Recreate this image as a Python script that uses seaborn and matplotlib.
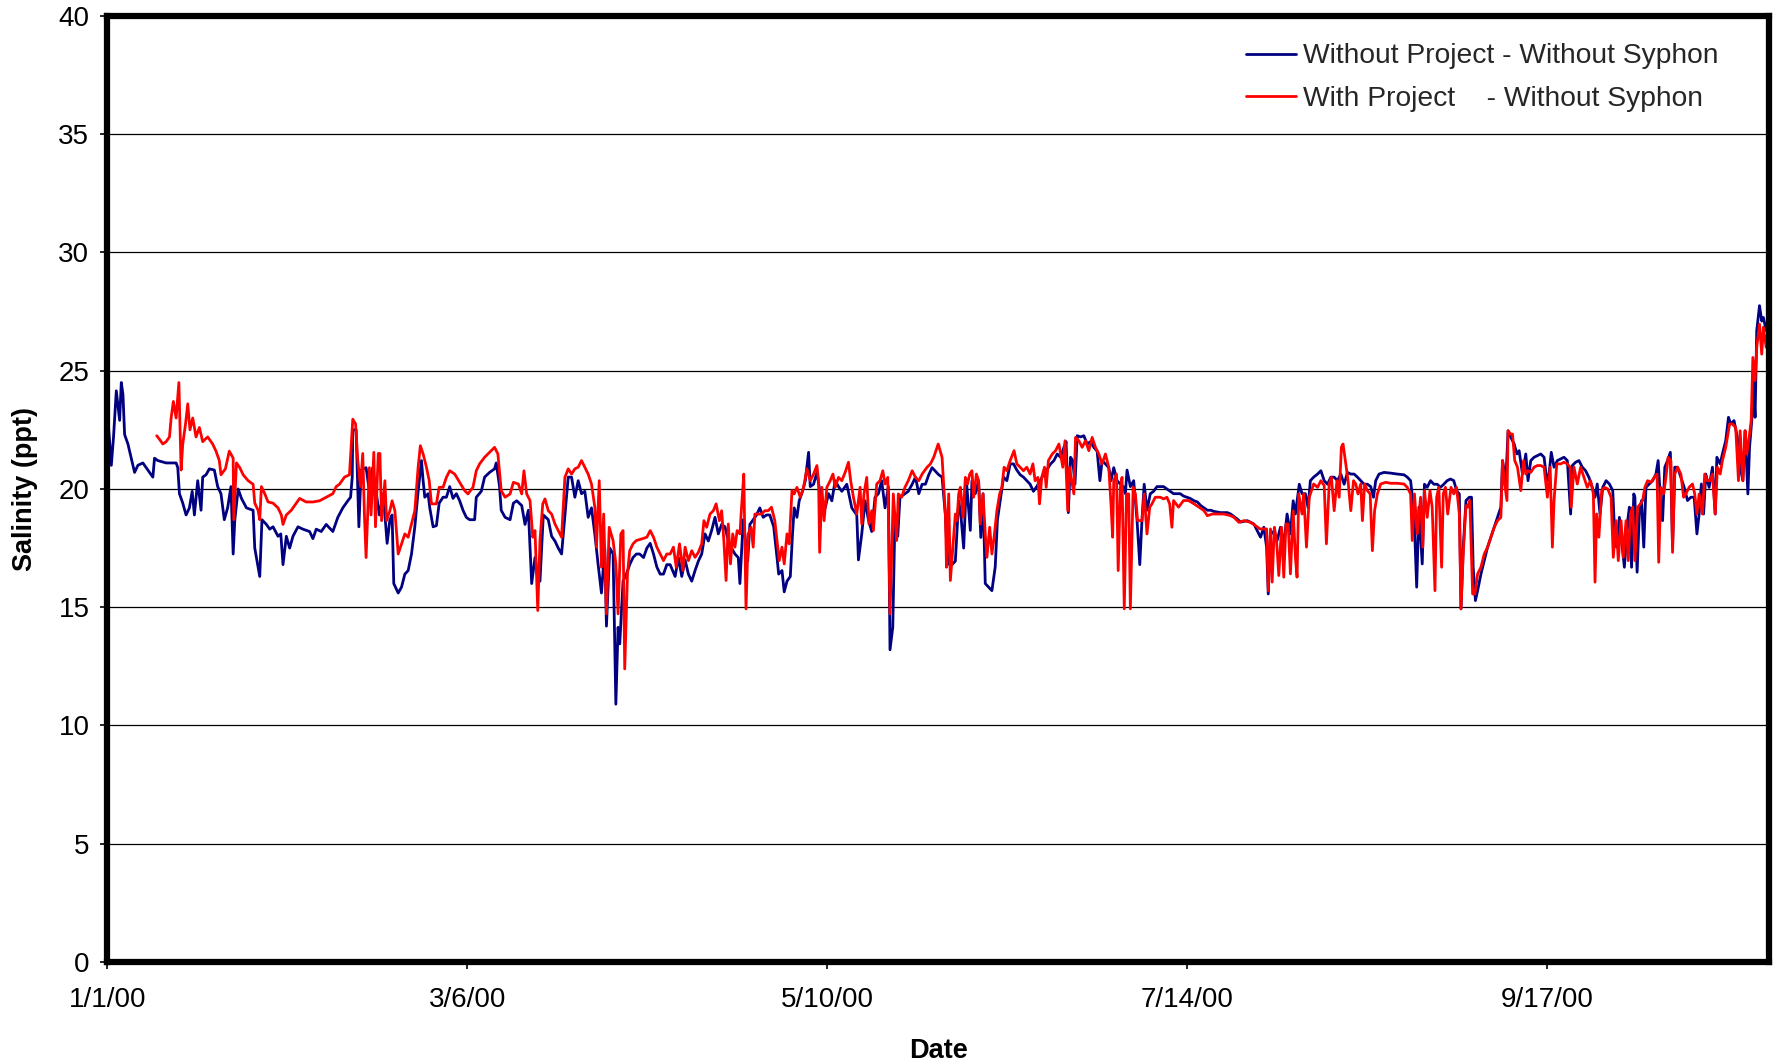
import matplotlib
matplotlib.use("Agg")
import matplotlib.pyplot as plt
from matplotlib.lines import Line2D
import pandas as pd
import seaborn as sns

# ---------------- data (days after 1/1/2000, salinity ppt) ----------------
start_date = "2000-01-01"

without_days = [
    0.0, 0.2, 0.7, 1.1, 1.6, 2.2, 2.5, 2.8, 3.1, 3.7, 4.3, 4.9, 5.5, 6.4, 7.3, 8.2, 8.5, 9.1,
    10.6, 12.4, 12.7, 13.0, 13.6, 14.2, 14.8, 15.3, 15.7, 16.3, 16.9, 17.2, 17.8, 18.4, 19.3,
    19.9, 20.5, 21.1, 21.7, 22.3, 22.7, 23.0, 23.6, 24.2, 25.1, 26.3, 26.6, 27.2, 27.5, 27.9,
    28.7, 29.3, 29.9, 30.8, 31.3, 31.7, 32.3, 32.9, 33.5, 34.4, 35.3, 36.5, 37.1, 37.7, 38.6,
    39.5, 40.7, 41.6, 42.5, 43.4, 43.9, 44.2, 44.3, 44.9, 45.4, 45.8, 46.7, 47.3, 47.9, 48.5,
    49.1, 49.8, 50.5,
    51.0, 51.4, 51.7, 52.5, 53.1, 53.7, 54.3, 54.9, 55.5, 56.1, 56.7, 57.0, 57.3, 57.9, 58.2,
    58.8, 59.4, 59.9, 60.6, 61.2, 61.8, 62.4, 63.0, 63.6, 64.2, 64.8, 65.4, 66.3, 66.6, 67.5,
    68.1, 69.0, 69.9, 70.2, 70.8, 71.1, 71.8, 72.7, 73.3, 73.9, 74.8, 75.4, 76.0, 76.6, 77.2,
    77.8, 78.1, 78.7, 79.6, 80.2, 80.8, 81.4, 82.0, 82.6, 83.2, 83.8, 84.4, 85.0, 85.6, 86.2,
    86.8, 87.4, 88.0, 88.6, 89.2, 89.8, 90.1, 90.7, 91.3, 91.8, 92.2, 92.5, 93.1, 93.7, 94.3,
    94.9, 95.5, 96.1, 96.8, 97.4, 98.0, 98.6, 99.2, 99.8, 100.4, 101.0,
    101.6, 102.5, 103.1, 103.7, 104.3, 104.9, 105.5, 106.1, 106.7, 107.3, 107.9, 108.5, 109.1,
    109.7, 110.3, 110.9, 111.5, 112.1, 112.7, 113.3, 113.9, 114.2, 114.8, 115.6, 116.0, 116.6,
    117.2, 117.8, 118.4, 119.0, 119.6, 120.3, 120.9, 121.2, 121.8, 122.2, 122.7, 123.3, 123.7,
    124.0, 124.5, 124.9, 125.5, 126.0, 126.6, 126.9, 127.5, 128.1, 128.7, 129.6, 130.2, 130.8,
    131.4, 132.0, 132.6, 133.5, 134.4, 135.3, 135.6, 136.2, 136.8, 137.4, 138.0, 138.6, 139.2,
    139.8, 140.4, 141.0, 141.3, 141.8, 142.2, 142.7, 143.1, 144.0, 144.6, 145.3, 145.9, 146.5,
    147.1, 147.7, 148.3, 148.9, 149.5, 150.1, 150.7, 151.3, 151.7,
    151.9, 152.5, 153.1, 153.7, 154.1, 154.6, 155.1, 155.8, 156.1, 156.7, 157.3, 157.7, 158.1,
    158.5, 159.1, 159.7, 160.3, 160.7, 161.2, 161.8, 162.4, 163.0, 163.6, 164.2, 164.8, 165.4,
    166.0, 166.6, 167.2, 167.8, 168.4, 169.0, 169.6, 170.3, 170.9, 171.5, 172.1, 172.7, 173.1,
    173.5, 173.9, 174.3, 174.7, 175.1, 175.7, 176.3, 176.9, 177.5, 178.1, 178.7, 179.2, 179.6,
    180.2, 180.8, 181.2, 181.7, 182.3, 182.9, 183.4, 183.8, 184.1, 184.7, 185.3, 185.9, 186.4,
    186.8, 187.2, 187.7, 188.3, 188.9, 189.5, 190.1, 190.7, 191.3, 191.9, 192.5, 193.1, 193.7,
    194.3, 194.9, 195.5, 196.2, 196.8, 197.4, 198.0, 198.6, 199.2, 199.8, 201.0, 202.2,
    202.8, 204.0, 204.6, 205.8, 207.0, 207.9, 208.2, 208.8, 209.3, 209.6, 210.0, 210.6, 211.2,
    211.8, 212.4, 213.0, 213.6, 214.1, 214.5, 215.2, 215.7, 216.3, 216.8, 217.2, 217.8, 218.5,
    219.1, 219.7, 220.3, 220.9, 221.5, 222.1, 222.7, 223.3, 223.9, 224.5, 225.1, 225.7, 226.3,
    226.9, 227.5, 228.1, 228.6, 229.0, 229.6, 230.5, 231.7, 232.9, 234.1, 234.7, 235.3, 235.9,
    236.4, 236.8, 237.4, 237.8, 238.3, 238.9, 239.5, 240.1, 240.7, 241.3, 241.9, 242.5, 243.1,
    243.6, 244.1, 244.4, 244.8, 245.3, 245.9, 246.3, 246.6, 247.0, 247.4, 248.0, 248.6, 249.2,
    249.8, 250.4, 251.0,
    251.6, 251.9, 252.5, 252.9, 253.4, 254.0, 254.5, 254.9, 255.5, 256.1, 256.5, 257.0, 257.6,
    258.2, 258.8, 259.4, 259.9, 260.3, 260.7, 261.2, 261.8, 262.4, 263.0, 263.6, 264.2, 264.5,
    265.1, 265.7, 266.3, 266.9, 267.5, 268.1, 268.6, 269.0, 269.5, 270.0, 270.6, 271.2, 271.8,
    272.2, 272.5, 273.0, 273.4, 273.9, 274.5, 274.8, 275.2, 275.6, 275.8, 276.2, 276.6, 277.0,
    277.4, 277.8, 278.4, 279.0, 279.6, 280.0, 280.5, 280.8, 281.2, 281.7, 282.2, 282.6, 283.0,
    283.5, 284.1, 284.7, 285.3, 285.9, 286.5, 287.0, 287.4, 287.8, 288.2, 288.6, 289.2, 289.8,
    290.3, 290.6, 291.2, 291.6, 292.2, 292.7, 293.1, 293.7, 294.3, 294.8, 295.3, 295.7, 296.2,
    296.5, 296.9, 297.2, 297.5, 297.8, 298.3, 298.7, 299.0, 299.5, 299.9, 300.4,
]
without_vals = [
    21.3, 22.6, 21.0, 22.2, 24.15, 22.9, 24.5, 24.0, 22.3, 21.9, 21.3, 20.7, 21.0, 21.1, 20.8, 20.5, 21.3, 21.2,
    21.1, 21.1, 20.9, 19.8, 19.4, 18.9, 19.2, 19.9, 18.9, 20.35, 19.1, 20.5, 20.6, 20.85, 20.8,
    20.1, 19.8, 18.7, 19.2, 20.1, 17.25, 18.7, 20.0, 19.6, 19.2, 19.1, 17.5, 16.7, 16.3, 18.7,
    18.5, 18.3, 18.4, 18.0, 18.1, 16.8, 18.0, 17.5, 18.0, 18.4, 18.3, 18.2, 17.9, 18.3, 18.2,
    18.5, 18.2, 18.8, 19.2, 19.5, 19.65, 20.5, 22.5, 22.5, 18.4, 20.8, 20.9, 19.9, 20.9, 19.9,
    18.9, 19.8, 17.7,
    18.7, 18.9, 16.0, 15.6, 15.85, 16.4, 16.55, 17.25, 18.4, 19.9, 21.2, 20.35, 19.65, 19.8, 19.2,
    18.4, 18.45, 19.4, 19.65, 19.65, 20.1, 19.6, 19.8, 19.5, 19.1, 18.8, 18.7, 18.7, 19.65, 19.9,
    20.5, 20.7, 20.85, 21.1, 20.1, 19.1, 18.8, 18.7, 19.4, 19.5, 19.3, 18.5, 19.1, 16.0, 17.1,
    16.1, 16.1, 18.9, 18.7, 18.0, 17.8, 17.5, 17.25, 18.9, 20.5, 20.5, 19.65, 20.35, 19.8, 19.9,
    18.8, 19.2, 18.1, 16.8, 15.6, 17.5, 14.2, 17.5, 17.25, 10.9, 14.15, 13.45, 16.1, 16.4, 16.8,
    17.1, 17.25, 17.25, 17.1, 17.5, 17.7, 17.25, 16.7, 16.4, 16.4, 16.8,
    16.8, 16.3, 17.1, 16.3, 17.0, 16.4, 16.1, 16.55, 16.95, 17.25, 18.1, 17.8, 18.25,
    18.8, 18.1, 18.5, 18.4, 17.8, 17.5, 17.25, 17.1, 16.0, 18.7, 16.95, 18.5, 18.7,
    18.9, 19.2, 18.8, 18.9, 18.9, 18.4, 17.1, 16.4, 16.55, 15.65, 16.1, 16.3, 18.1,
    19.2, 18.8, 19.5, 19.9, 20.35, 21.55, 20.1, 20.2, 20.7, 19.8, 19.2, 19.8, 19.5,
    20.35, 20.1, 19.9, 20.2, 19.2, 18.9, 17.0, 18.1, 19.5, 18.7, 18.2, 19.65, 19.8,
    20.35, 19.2, 20.1, 13.2, 14.15, 18.9, 18.0, 19.65, 19.8, 19.9, 20.2, 20.5, 19.8,
    20.2, 20.2, 20.6, 20.9, 20.75, 20.6, 20.5, 18.9, 16.8,
    17.7, 16.8, 16.95, 19.5, 18.9, 17.5, 20.35, 18.25, 20.35, 19.8, 20.35, 17.95, 19.8,
    16.0, 15.85, 15.7, 16.7, 18.7, 19.5, 20.5, 20.35, 21.06, 21.06, 20.8, 20.6, 20.5,
    20.35, 20.2, 19.9, 20.1, 20.35, 20.6, 20.8, 21.06, 21.2, 21.48, 21.34, 21.76, 22.0,
    19.0, 21.34, 21.2, 20.2, 22.25, 22.2, 22.25, 21.9, 22.0, 21.76, 21.6, 20.35, 21.2,
    21.06, 20.9, 20.35, 20.9, 20.35, 20.2, 20.1, 19.8, 20.8, 20.1, 20.35, 18.7, 16.8,
    18.7, 20.2, 19.1, 19.8, 19.9, 20.1, 20.1, 20.1, 20.0, 19.9, 19.8, 19.8, 19.8,
    19.7, 19.65, 19.6, 19.5, 19.45, 19.3, 19.2, 19.1, 19.1, 19.05, 19.0, 19.0,
    18.94, 18.73, 18.6, 18.66, 18.52, 18.1, 17.96, 18.38, 17.54, 15.56, 18.24, 18.1, 17.82,
    18.38, 17.68, 18.94, 18.1, 19.5, 18.94, 20.2, 19.8, 19.8, 19.2, 20.35, 20.5, 20.63,
    20.77, 20.35, 20.2, 20.5, 20.5, 20.35, 20.63, 20.2, 20.7, 20.63, 20.63, 20.5, 20.35,
    20.2, 20.2, 20.1, 19.65, 20.35, 20.63, 20.7, 20.67, 20.63, 20.6, 20.5, 20.35, 19.08,
    15.85, 19.23, 16.83, 20.2, 20.07, 20.35, 20.2, 20.2, 20.07, 20.2, 20.35, 20.42, 20.35,
    19.93, 19.79, 14.93, 17.5, 19.51, 19.65, 19.65, 16.7, 15.28, 15.7, 16.4, 16.97, 17.54,
    17.96, 18.38, 18.8,
    19.23, 21.2, 20.35, 22.46, 22.18, 21.9, 21.48, 21.62, 20.63, 21.48, 20.35, 21.2, 21.34,
    21.41, 21.48, 21.34, 20.35, 20.63, 21.55, 20.92, 21.2, 21.27, 21.34, 21.2, 18.94, 20.99,
    21.13, 21.2, 20.92, 20.77, 20.49, 20.07, 19.65, 20.21, 18.94, 20.07, 20.35, 20.21, 19.93,
    17.82, 17.54, 18.8, 17.82, 16.69, 18.66, 19.23, 16.69, 19.79, 19.65, 16.48, 18.94, 19.51,
    17.54, 20.07, 20.21, 20.35, 20.63, 21.2, 19.23, 18.66, 20.92, 21.2, 21.55, 17.54, 20.92,
    20.92, 20.49, 20.07, 19.51, 19.65, 19.65, 18.1, 18.94, 20.21, 18.94, 20.63, 20.07, 20.92,
    18.94, 21.34, 21.06, 21.48, 22.04, 23.03, 22.75, 22.89, 22.18, 20.92, 20.35, 22.46, 19.79,
    21.76, 22.89, 24.58, 23.03, 26.7, 27.75, 27.1, 27.25, 26.7, 26.97, 25.99,
]

with_days = [
    8.9, 9.4, 10.0, 10.6, 11.2, 11.5, 11.9, 12.4, 12.9, 13.3, 13.6, 14.1, 14.5, 14.9, 15.4,
    16.0, 16.6, 17.2, 18.1, 19.0, 19.6, 20.2, 20.5, 21.3, 22.0, 22.7, 22.8, 23.3, 23.9, 24.5,
    25.4, 26.3, 26.6, 27.2, 27.5, 27.8, 28.4, 29.0, 29.9, 30.8, 31.4, 31.7, 32.3, 33.2, 34.1,
    34.7, 35.9, 37.1, 38.3, 39.5, 40.7, 41.3, 41.9, 42.8, 43.7, 44.3, 44.8, 45.2, 45.7, 46.1,
    46.4, 46.7, 47.3, 47.6, 48.1, 48.4, 48.9, 49.2,
    49.5, 50.1, 50.4, 51.0, 51.4, 51.9, 52.5, 53.1, 53.7, 54.3, 54.9, 55.5, 56.1, 56.5, 57.0,
    57.6, 58.1, 58.5, 59.4, 59.9, 60.6, 61.2, 61.8, 62.7, 63.6, 64.5, 65.1, 66.0, 66.6, 67.2,
    68.1, 69.0, 69.9, 70.5, 71.1, 71.8, 72.7, 73.3, 74.2, 74.8, 75.2, 75.7, 76.3, 76.8, 77.2,
    77.7, 78.1, 78.6, 79.0, 79.6, 80.2, 80.8, 81.4, 82.0, 82.6, 83.2, 83.8, 84.4, 85.0, 85.6,
    86.2, 86.8, 87.4, 88.0, 88.3, 88.8, 89.2, 89.6, 90.1, 90.6, 91.3, 91.8, 92.2, 92.7, 93.1,
    93.4, 93.9, 94.3, 94.9, 95.5, 96.5, 97.4, 98.0, 98.6, 99.2, 99.8, 100.4, 101.0,
    101.6, 102.2, 102.7, 103.3, 103.9, 104.3, 104.9, 105.5, 106.1, 106.7, 107.3, 107.7, 108.2,
    108.8, 109.4, 109.9, 110.5, 110.9, 111.3, 111.7, 112.1, 112.5, 112.9, 113.3, 113.7, 114.2,
    114.5, 114.9, 115.3, 115.7, 116.2, 116.6, 116.9, 117.5, 118.1, 118.7, 119.3, 119.9, 120.5,
    120.9, 121.3, 121.8, 122.2, 122.7, 123.1, 123.6, 124.0, 124.5, 125.1, 125.7, 126.3, 126.9,
    127.5, 128.1, 128.4, 128.6, 129.0, 129.4, 129.9, 130.5, 131.0, 131.4, 132.0, 132.6, 133.2,
    133.8, 134.2, 134.7, 135.3, 135.9, 136.2, 136.6, 137.1, 137.5, 138.0, 138.3, 138.9, 139.5,
    140.0, 140.4, 140.9, 141.3, 141.9, 142.5, 142.8, 143.4, 144.0, 144.6, 145.3, 145.9, 146.5,
    147.1, 148.0, 148.6, 149.2, 150.0, 150.7, 151.3, 151.5, 151.9, 152.2,
    152.7, 153.1, 153.4, 153.7, 154.0, 154.5, 154.9, 155.3, 155.7, 156.1, 156.4, 156.9, 157.3,
    157.6, 158.1, 158.5, 158.8, 159.3, 159.7, 160.1, 160.6, 161.1, 161.5, 161.9, 162.4, 163.0,
    163.7, 164.2, 164.8, 165.4, 166.0, 166.6, 167.1, 167.5, 168.0, 168.3, 168.7, 169.2, 169.5,
    169.9, 170.6, 171.2, 171.8, 172.2, 172.5, 172.9, 173.4, 173.7, 174.2, 174.5, 174.8, 175.4,
    176.0, 176.6, 177.2, 177.8, 178.4, 179.0, 179.6, 180.2, 180.8, 181.2, 181.5, 181.7, 182.2,
    182.5, 182.9, 183.2, 183.6, 184.0, 184.4, 184.7, 185.2, 185.6, 186.0, 186.8, 187.2, 187.7,
    188.2, 188.6, 189.2, 190.1, 190.7, 191.3, 191.8, 192.2, 192.5, 193.4, 194.3, 195.2, 196.2,
    197.1, 198.0, 198.6, 199.5, 200.4, 201.6, 202.8,
    203.4, 204.3, 205.2, 206.4, 207.3, 208.1, 208.8, 209.3, 209.6, 210.0, 210.3, 210.7, 211.1,
    211.5, 212.0, 212.4, 212.8, 213.2, 213.6, 214.1, 214.5, 214.8, 215.1, 215.7, 216.0, 216.5,
    217.0, 217.4, 217.8, 218.5, 219.1, 219.7, 220.1, 220.6, 221.0, 221.5, 222.0, 222.4, 222.8,
    223.1, 223.6, 224.0, 224.5, 225.0, 225.4, 225.8, 226.3, 226.6, 227.0, 227.5, 228.0, 228.4,
    228.8, 229.3, 229.9, 230.8, 231.7, 232.9, 234.1, 234.7, 235.3, 235.6, 236.0, 236.5, 237.1,
    237.5, 237.8, 238.3, 238.8, 239.2, 239.7, 240.0, 240.4, 240.9, 241.2, 241.6, 242.0, 242.6,
    243.1, 243.6, 244.1, 244.4, 244.8, 245.3, 245.6, 246.0, 246.5, 246.9, 247.4, 248.0, 248.6,
    249.2, 249.8, 250.4, 251.0, 251.6, 251.9, 252.2, 252.7, 252.9, 253.4,
    253.7, 254.1, 254.6, 255.2, 255.7, 256.1, 256.5, 257.0, 257.6, 258.2, 258.8, 259.4, 260.0,
    260.5, 260.9, 261.2, 261.7, 262.4, 263.0, 263.6, 264.1, 264.3, 264.8, 265.4, 266.0, 266.6,
    267.2, 267.8, 268.3, 268.6, 268.9, 269.3, 269.8, 270.3, 270.9, 271.5, 271.9, 272.4, 272.8,
    273.3, 273.7, 274.2, 274.6, 275.0, 275.4, 275.8, 276.3, 276.8, 277.2, 277.6, 278.1, 278.7,
    279.3, 279.8, 280.1, 280.5, 281.0, 281.4, 281.8, 282.3, 282.6, 283.0, 283.5, 284.1, 284.6,
    285.0, 285.6, 286.2, 286.6, 287.0, 287.4, 288.0, 288.4, 288.9, 289.4, 289.8, 290.3, 290.7,
    291.2, 291.6, 292.2, 292.9, 293.4, 294.0, 294.5, 294.8, 295.3, 295.7, 296.0, 296.5, 296.8,
    297.1, 297.5, 297.8, 298.3, 298.7, 299.0, 299.5, 299.9, 300.4,
]
with_vals = [
    22.25, 22.1, 21.9, 22.0, 22.2, 23.0, 23.7, 23.0, 24.5, 20.8, 21.9, 22.75, 23.6, 22.5, 23.0,
    22.2, 22.6, 22.0, 22.2, 21.9, 21.6, 21.2, 20.6, 20.85, 21.6, 21.3, 18.7, 21.1, 20.9, 20.6,
    20.35, 20.2, 19.4, 19.1, 18.7, 20.1, 19.8, 19.45, 19.4, 19.2, 18.9, 18.5, 18.9, 19.1, 19.4,
    19.6, 19.45, 19.45, 19.5, 19.65, 19.8, 20.1, 20.2, 20.5, 20.6, 22.95, 22.75, 21.2, 20.1, 21.5,
    18.9, 17.1, 20.9, 18.9, 21.55, 18.4, 21.5, 21.5,
    18.66, 20.35, 18.66, 19.08, 19.5, 19.08, 17.25, 17.68, 18.1, 17.96, 18.52, 19.08, 20.92, 21.83, 21.48,
    20.92, 20.35, 19.37, 19.37, 20.07, 20.07, 20.49, 20.77, 20.63, 20.28, 19.93, 19.79, 20.07, 20.77, 21.06,
    21.34, 21.55, 21.76, 21.48, 19.93, 19.65, 19.79, 20.28, 20.21, 19.79, 20.77, 19.79, 19.51, 17.96, 18.24,
    14.86, 17.82, 19.37, 19.58, 19.08, 18.94, 18.52, 18.24, 17.96, 20.49, 20.85, 20.63, 20.85, 20.92, 21.2,
    20.92, 20.63, 20.21, 19.23, 17.54, 20.35, 16.69, 18.94, 14.72, 18.38, 17.82, 16.83, 14.72, 18.1, 18.24,
    12.39, 16.41, 17.39, 17.68, 17.82, 17.89, 17.96, 18.24, 17.96, 17.54, 17.25, 16.97, 17.25,
    17.25, 17.54, 16.69, 17.68, 16.55, 17.54, 16.97, 17.39, 17.11, 17.32, 17.68, 18.66, 18.38,
    18.94, 19.08, 19.37, 18.66, 19.08, 17.82, 16.13, 18.52, 16.83, 18.1, 17.54, 18.24, 18.1,
    19.23, 20.63, 14.93, 18.1, 18.38, 17.54, 18.94, 18.94, 18.94, 19.08, 19.08, 19.23, 18.66,
    17.82, 16.97, 17.54, 16.83, 18.1, 17.68, 19.93, 19.79, 20.07, 19.65, 20.07, 20.85, 20.35,
    20.63, 20.99, 20.35, 17.32, 20.07, 18.66, 20.07, 20.35, 20.63, 20.07, 20.49, 20.35, 20.7,
    21.13, 20.35, 19.65, 18.94, 20.07, 18.52, 19.79, 20.49, 18.52, 19.08, 18.24, 20.21, 20.35,
    20.77, 20.21, 20.49, 14.72, 19.79, 17.82, 19.79, 19.65, 20.07, 20.35, 20.77, 20.49, 20.35,
    20.63, 20.92, 21.06, 21.34, 21.9, 21.34, 18.94, 16.69, 19.79, 16.13,
    17.68, 18.94, 18.66, 19.79, 20.07, 18.8, 20.49, 20.21, 20.63, 20.77, 19.65, 20.63, 20.35,
    18.52, 19.79, 18.1, 17.11, 18.38, 17.25, 17.96, 19.08, 19.79, 20.07, 20.92, 20.77, 21.2,
    21.62, 21.06, 20.92, 20.77, 20.92, 20.63, 21.06, 20.35, 20.49, 19.37, 20.49, 20.92, 20.07,
    21.2, 21.48, 21.62, 21.9, 21.34, 20.92, 22.04, 19.08, 20.92, 20.21, 19.79, 22.18, 22.04,
    21.76, 22.04, 21.62, 22.18, 21.76, 21.48, 21.06, 21.48, 20.92, 19.37, 17.96, 20.35, 20.63,
    16.55, 20.07, 20.49, 14.93, 19.79, 19.79, 14.93, 20.07, 19.79, 18.66, 18.66, 19.79, 18.1,
    19.23, 19.37, 19.65, 19.65, 19.58, 19.65, 19.37, 18.38, 19.51, 19.23, 19.51, 19.51, 19.37,
    19.23, 19.08, 18.87, 18.94, 18.94, 18.94, 18.87,
    18.8, 18.59, 18.66, 18.59, 18.45, 18.31, 18.31, 18.31, 15.7, 18.31, 16.06, 18.38, 17.82,
    16.34, 18.38, 16.27, 18.52, 18.52, 16.41, 19.08, 17.11, 16.27, 19.79, 18.94, 19.79, 17.54,
    19.65, 19.93, 20.21, 20.07, 20.35, 20.14, 17.68, 20.21, 20.49, 19.08, 20.35, 19.65, 21.76,
    21.9, 21.06, 20.35, 19.08, 20.35, 20.21, 19.79, 20.21, 18.66, 20.21, 19.93, 19.79, 17.39,
    19.08, 19.79, 20.21, 20.28, 20.24, 20.24, 20.21, 20.07, 19.79, 17.82, 19.79, 18.1, 19.65,
    17.54, 19.93, 18.8, 19.93, 19.23, 15.7, 19.65, 20.07, 16.69, 19.79, 20.07, 18.94, 20.07,
    19.79, 20.07, 18.94, 14.93, 17.25, 19.3, 19.23, 19.51, 15.56, 15.56, 16.41, 16.69, 17.25,
    17.54, 17.96, 18.38, 18.66, 18.8, 21.2, 20.35, 19.51, 22.46, 22.32,
    22.32, 21.2, 20.92, 19.93, 21.2, 20.63, 20.77, 20.7, 20.92, 20.99, 20.99, 20.92, 19.65,
    20.92, 17.54, 19.51, 21.06, 21.06, 21.13, 21.06, 20.92, 19.23, 20.92, 20.21, 20.92, 20.49,
    20.07, 20.35, 19.79, 16.06, 18.94, 17.96, 19.93, 20.07, 20.0, 19.65, 17.11, 18.66, 16.97,
    18.66, 17.11, 18.66, 16.97, 18.94, 19.23, 16.97, 19.23, 19.37, 19.51, 20.07, 20.35, 20.28,
    20.49, 20.63, 16.9, 20.07, 19.79, 20.49, 21.34, 21.2, 17.32, 20.63, 20.92, 20.63, 19.65,
    19.79, 20.07, 20.21, 19.79, 18.94, 19.79, 18.94, 20.63, 20.35, 20.35, 20.63, 18.94, 20.92,
    20.63, 21.2, 21.76, 22.75, 22.75, 22.6, 20.35, 22.46, 20.35, 22.46, 21.48, 22.32, 22.89,
    25.56, 24.58, 25.99, 26.97, 25.7, 26.84, 25.99, 26.56, 26.3,
]

series_names = ["Without Project - Without Syphon", "With Project    - Without Syphon"]
series_colors = ["#000080", "#FF0000"]
tick_dates = ["2000-01-01", "2000-03-06", "2000-05-10", "2000-07-14", "2000-09-17"]
tick_labels = ["1/1/00", "3/6/00", "5/10/00", "7/14/00", "9/17/00"]
y_ticks = [0, 5, 10, 15, 20, 25, 30, 35, 40]
x_end_days = 300.0

# ---------------- build table ----------------
t0 = pd.Timestamp(start_date)
frames = []
for name, days, vals in [(series_names[0], without_days, without_vals),
                         (series_names[1], with_days, with_vals)]:
    frames.append(pd.DataFrame({
        "Date": t0 + pd.to_timedelta(days, unit="D"),
        "Salinity": vals,
        "Series": name,
    }))
df = pd.concat(frames, ignore_index=True)

# ---------------- plot ----------------
sns.set_theme(style="white")
plt.rcParams["font.family"] = ["Liberation Sans", "DejaVu Sans"]

fig = plt.figure(figsize=(17.73, 10.64), dpi=100)
ax = fig.add_axes([0.0606, 0.0959, 0.9371, 0.8891])

sns.lineplot(data=df, x="Date", y="Salinity", hue="Series", hue_order=series_names,
             palette=dict(zip(series_names, series_colors)), estimator=None, sort=False,
             linewidth=2.0, ax=ax, legend=False)

ax.set_xlim(t0, t0 + pd.Timedelta(days=x_end_days))
ax.set_ylim(0, 40)
ax.set_yticks(y_ticks)
ax.set_yticklabels([str(v) for v in y_ticks])
ax.set_xticks(pd.to_datetime(tick_dates))
ax.set_xticklabels(tick_labels)

ax.yaxis.grid(True, color="black", linewidth=0.9)
ax.xaxis.grid(False)
ax.set_axisbelow(True)

for sp in ax.spines.values():
    sp.set_visible(True)
    sp.set_color("black")
    sp.set_linewidth(4.5)

ax.tick_params(axis="both", which="major", bottom=True, left=True, direction="out",
               length=5, width=1.2, color="black", labelsize=20, labelcolor="black")
ax.tick_params(axis="x", pad=13)
ax.tick_params(axis="y", pad=8)

ax.set_xlabel("Date", fontsize=19.5, fontweight="bold", color="black")
ax.set_ylabel("Salinity (ppt)", fontsize=19.5, fontweight="bold", color="black")
ax.xaxis.set_label_coords(0.5, -0.08)
ax.yaxis.set_label_coords(-0.0415, 0.5)

handles = [Line2D([], [], color=c, linewidth=2.0) for c in series_colors]
ax.legend(handles, series_names, loc="upper left", bbox_to_anchor=(0.685, 0.971),
          frameon=False, fontsize=20.3, handlelength=1.8, handletextpad=0.25,
          labelspacing=0.6, borderpad=0, borderaxespad=0)

fig.savefig("out.png", dpi=100, facecolor="white")
